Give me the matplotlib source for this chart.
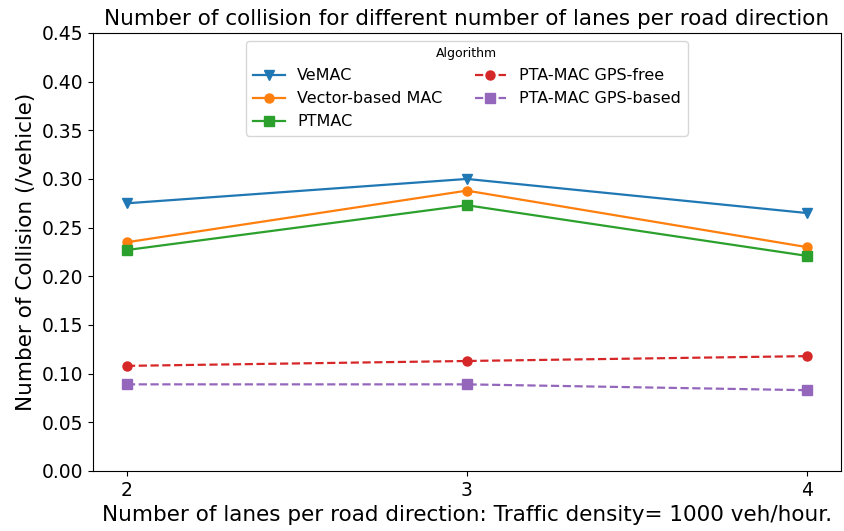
import matplotlib
matplotlib.use("Agg")
import matplotlib.pyplot as plt

lanes = [2, 3, 4]
vemac = [0.275, 0.300, 0.265]
vector_mac = [0.235, 0.288, 0.230]
ptmac = [0.227, 0.273, 0.221]
pta_free = [0.108, 0.113, 0.118]
pta_based = [0.089, 0.089, 0.083]

fig, ax = plt.subplots(figsize=(8.45, 5.31), dpi=100)

style = dict(markersize=6.5, linewidth=1.6)
ax.plot(lanes, vemac, marker="v", color="#1f77b4", label="VeMAC", **style)
ax.plot(lanes, vector_mac, marker="o", color="#ff7f0e", label="Vector-based MAC", **style)
ax.plot(lanes, ptmac, marker="s", color="#2ca02c", label="PTMAC", **style)
ax.plot(lanes, pta_free, marker="o", linestyle="--", color="#d62728", label="PTA-MAC GPS-free", **style)
ax.plot(lanes, pta_based, marker="s", linestyle="--", color="#9467bd", label="PTA-MAC GPS-based", **style)

ax.set_ylim(0, 0.45)
ax.set_yticks([i * 0.05 for i in range(10)])
ax.set_xticks(lanes)
ax.tick_params(labelsize=13.5)
ax.set_title("Number of collision for different number of lanes per road direction", fontsize=15.5)
ax.set_xlabel("Number of lanes per road direction: Traffic density= 1000 veh/hour.", fontsize=15.5)
ax.set_ylabel("Number of Collision (/vehicle)", fontsize=15.5)
leg = ax.legend(title="Algorithm", ncol=2, loc="upper center", fontsize=11.5, title_fontsize=9)

fig.subplots_adjust(left=0.11, right=0.995, top=0.938, bottom=0.113)
fig.savefig("out.png", dpi=100)
